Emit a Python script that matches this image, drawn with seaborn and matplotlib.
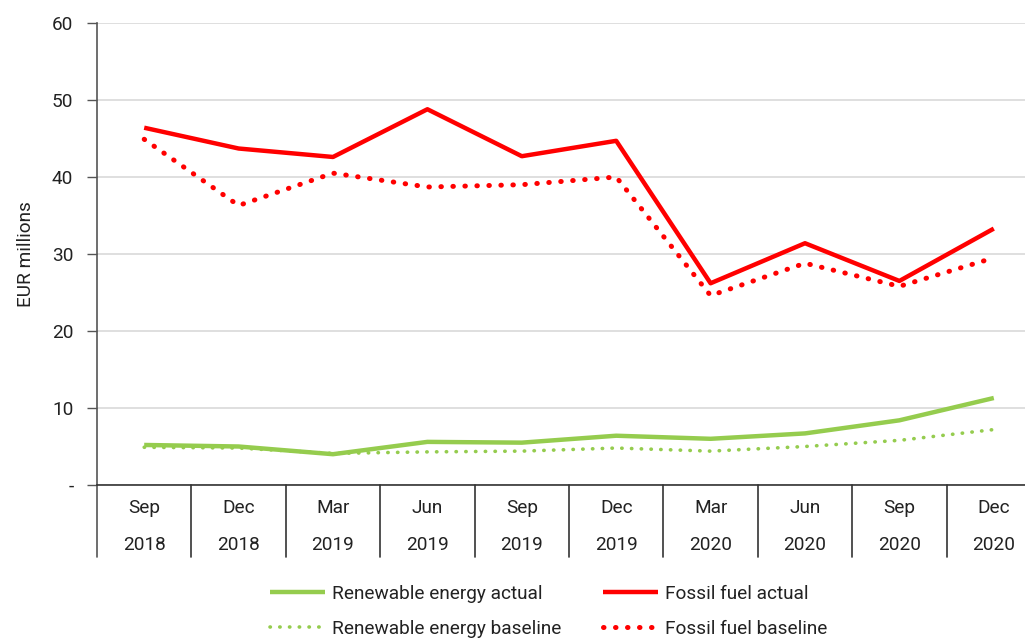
import numpy as np
import pandas as pd
import matplotlib
matplotlib.use("Agg")
import matplotlib.pyplot as plt
import matplotlib.transforms as mtransforms
import seaborn as sns

months = ["Sep", "Dec", "Mar", "Jun", "Sep", "Dec", "Mar", "Jun", "Sep", "Dec"]
years = ["2018", "2018", "2019", "2019", "2019", "2019", "2020", "2020", "2020", "2020"]
renewable_actual = [5.2, 5.0, 4.0, 5.6, 5.5, 6.4, 6.0, 6.7, 8.4, 11.3]
renewable_baseline = [4.9, 4.8, 4.1, 4.3, 4.4, 4.8, 4.4, 5.0, 5.8, 7.2]
fossil_actual = [46.4, 43.7, 42.6, 48.8, 42.7, 44.7, 26.2, 31.4, 26.5, 33.3]
fossil_baseline = [44.9, 36.3, 40.5, 38.7, 39.0, 40.0, 24.6, 28.8, 25.8, 29.5]
y_ticks = [0, 10, 20, 30, 40, 50, 60]
y_tick_labels = ["-", "10", "20", "30", "40", "50", "60"]

sns.set_style("white")
plt.rcParams["font.family"] = ["Roboto", "DejaVu Sans"]
TXT = "#222222"
FS = 13.7

GREEN = "#95CC4E"
RED = "#FF0000"

fig = plt.figure(figsize=(10.25, 6.39), dpi=100)
ax = fig.add_axes([97 / 1025, 154 / 639, 944 / 1025, 462 / 639])

x = np.arange(len(months))
df = pd.DataFrame({"x": x})

series = [
    ("Renewable energy actual", renewable_actual, GREEN, "-", 3.2),
    ("Renewable energy baseline", renewable_baseline, GREEN, (0, (0.1, 2.6)), 2.6),
    ("Fossil fuel actual", fossil_actual, RED, "-", 3.2),
    ("Fossil fuel baseline", fossil_baseline, RED, (0, (0.1, 2.3)), 3.6),
]
handles = []
for name, vals, col, ls, lw in series:
    d = df.assign(y=vals)
    sns.lineplot(data=d, x="x", y="y", ax=ax, color=col, linewidth=lw,
                 linestyle=ls, label=name, legend=False,
                 solid_capstyle="butt", dash_capstyle="round")
    handles.append(ax.lines[-1])

ax.set_xlim(-0.5, len(months) - 0.5)
ax.set_ylim(0, 60)
ax.set_yticks(y_ticks)
ax.set_yticklabels(y_tick_labels, fontsize=FS, color=TXT)
ax.yaxis.grid(True, color="#D9D9D9", linewidth=1.2)
ax.set_axisbelow(True)
ax.tick_params(axis="y", length=7, width=1, color="#555555", pad=10, left=True)

ax.set_xticks(x)
ax.set_xticklabels([f"{m}\n{y}" for m, y in zip(months, years)],
                   fontsize=FS, color=TXT, linespacing=2.38)
ax.tick_params(axis="x", length=0, pad=10)

for s in ["top", "right"]:
    ax.spines[s].set_visible(False)
ax.spines["left"].set_color("#555555")
ax.spines["left"].set_linewidth(1.2)
ax.spines["bottom"].set_color("#333333")
ax.spines["bottom"].set_linewidth(1.2)

ax.set_xlabel("")
ax.set_ylabel("EUR millions", fontsize=FS, color=TXT, labelpad=12)

# category separators in the label area
trans = mtransforms.blended_transform_factory(ax.transData, ax.transAxes)
sep_len = 72 / 462
for i in range(len(months) + 1):
    col = "#555555" if i == 0 else "#333333"
    ax.plot([i - 0.5, i - 0.5], [0, -sep_len], transform=trans, color=col,
            linewidth=1.2, clip_on=False)

fig.legend(handles=handles,
           labels=[s[0] for s in series],
           ncol=2, loc="upper left", bbox_to_anchor=(262 / 1025, 1 - 577 / 639),
           frameon=False, fontsize=FS, handlelength=2.9, handletextpad=0.37,
           columnspacing=2.2, labelspacing=0.9, labelcolor=TXT,
           borderaxespad=0.0)

fig.savefig("out.png", dpi=100)
